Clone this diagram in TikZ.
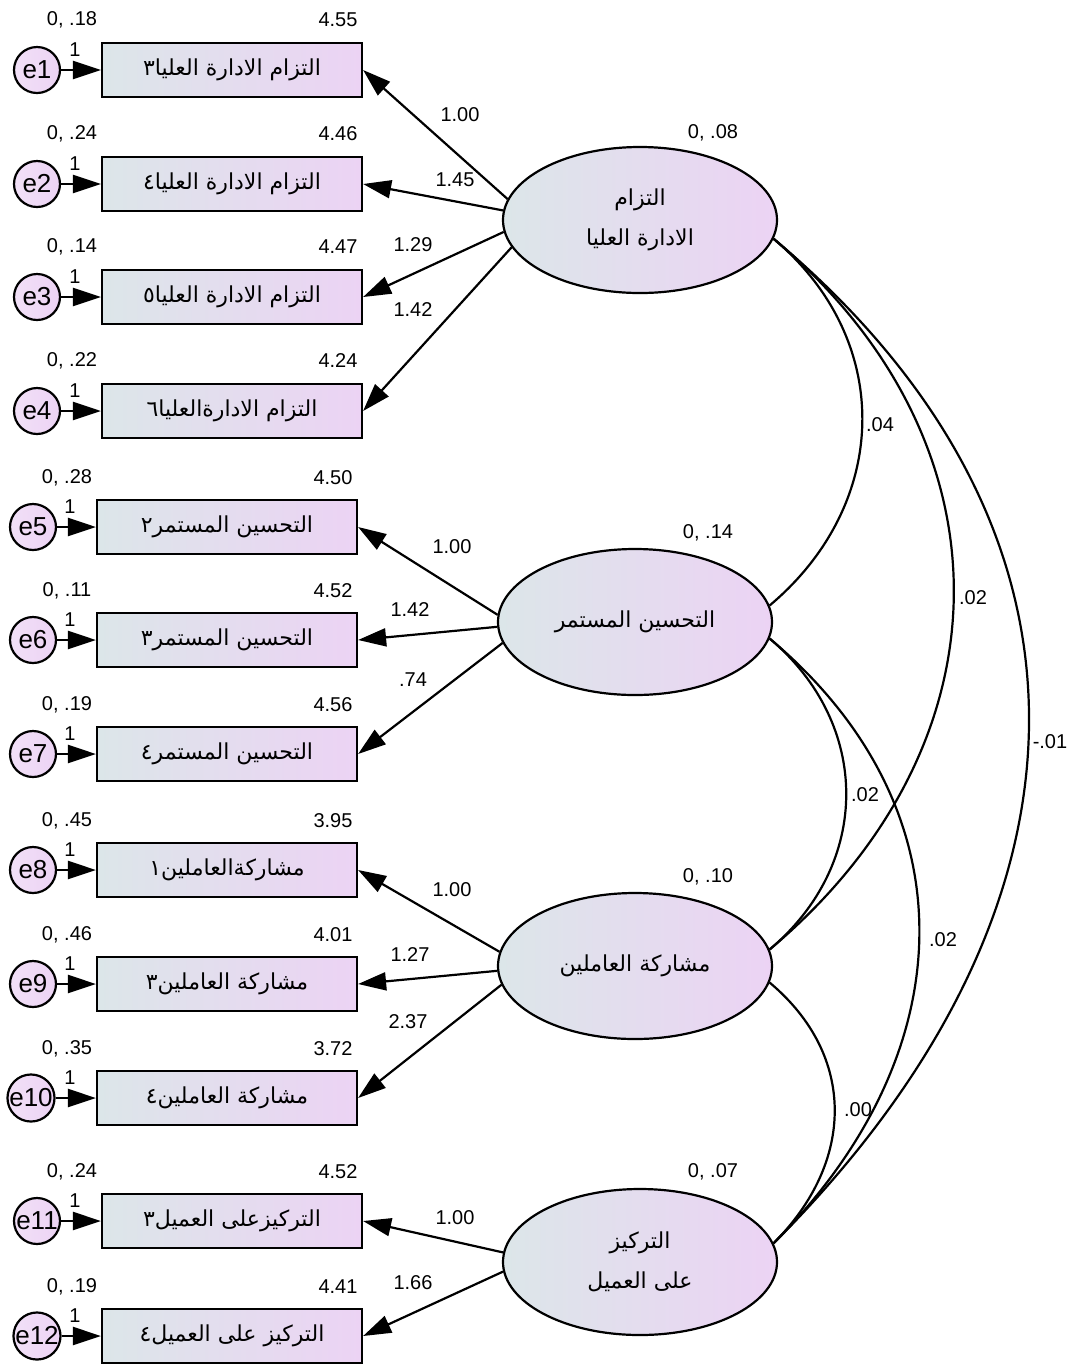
\documentclass[tikz,border=0pt]{standalone}
\usepackage{fontspec}
\setmainfont{Liberation Sans}
\newfontfamily\arabicfont[Script=Arabic]{DejaVu Sans}
\TeXXeTstate=1
\usetikzlibrary{arrows.meta,shapes.geometric}
\definecolor{shadeL}{HTML}{DCE6E9}
\definecolor{shadeR}{HTML}{ECD3F4}
\newcommand{\artxt}[1]{{\arabicfont\beginR #1\endR}}

\begin{document}
\begin{tikzpicture}[x=0.5pt,y=0.5pt,
  obs/.style={draw, line width=1.1pt, minimum width=130pt, minimum height=27pt,
    inner sep=0pt, left color=shadeL, right color=shadeR,
    font=\fontsize{11}{13}\selectfont},
  lat/.style={ellipse, draw, line width=1.1pt, minimum width=137pt,
    minimum height=73pt, inner sep=0pt, left color=shadeL, right color=shadeR,
    align=center, font=\fontsize{11}{20}\selectfont},
  err/.style={circle, draw, line width=1.1pt, minimum size=23pt, inner sep=0pt,
    left color=shadeR!70!white, right color=shadeR,
    font=\fontsize{13}{15}\selectfont},
  num/.style={inner sep=0pt, font=\fontsize{10}{12}\selectfont},
  load/.style={line width=1.1pt, -{Triangle[length=14pt,width=9pt]}},
  cov/.style={line width=1.1pt}]
\useasboundingbox (0,0) rectangle (1067,-1367);

% latent variables
\node[lat] (F1) at (640,-220) {\artxt{التزام}\\\artxt{الادارة العليا}};
\node[lat] (F2) at (635,-622) {\artxt{التحسين المستمر}};
\node[lat] (F3) at (635,-966) {\artxt{مشاركة العاملين}};
\node[lat] (F4) at (640,-1262) {\artxt{التركيز}\\\artxt{على العميل}};
\node[num] (vF1) at (713,-133) {0, .08};
\node[num] (vF2) at (708,-533) {0, .14};
\node[num] (vF3) at (708,-877) {0, .10};
\node[num] (vF4) at (713,-1172) {0, .07};

% indicators of F1
\node[obs] (b1) at (232,-70) {\artxt{التزام الادارة العليا٣}};
\node[obs] (b2) at (232,-184) {\artxt{التزام الادارة العليا٤}};
\node[obs] (b3) at (232,-297) {\artxt{التزام الادارة العليا٥}};
\node[obs] (b4) at (232,-411) {\artxt{التزام الادارةالعليا٦}};
\node[err] (e1) at (37,-70) {e1};
\node[err] (e2) at (37,-184) {e2};
\node[err] (e3) at (37,-297) {e3};
\node[err] (e4) at (37,-411) {e4};
\node[num] (v1) at (72,-20) {0, .18};
\node[num] (v2) at (72,-134) {0, .24};
\node[num] (v3) at (72,-247) {0, .14};
\node[num] (v4) at (72,-361) {0, .22};
\node[num] (m1) at (338,-20) {4.55};
\node[num] (m2) at (338,-134) {4.46};
\node[num] (m3) at (338,-247) {4.47};
\node[num] (m4) at (338,-361) {4.24};

% indicators of F2
\node[obs] (b5) at (227,-527) {\artxt{التحسين المستمر٢}};
\node[obs] (b6) at (227,-640) {\artxt{التحسين المستمر٣}};
\node[obs] (b7) at (227,-754) {\artxt{التحسين المستمر٤}};
\node[err] (e5) at (33,-527) {e5};
\node[err] (e6) at (33,-640) {e6};
\node[err] (e7) at (33,-754) {e7};
\node[num] (v5) at (67,-478) {0, .28};
\node[num] (v6) at (67,-591) {0, .11};
\node[num] (v7) at (67,-705) {0, .19};
\node[num] (m5) at (333,-478) {4.50};
\node[num] (m6) at (333,-591) {4.52};
\node[num] (m7) at (333,-705) {4.56};

% indicators of F3
\node[obs] (b8) at (227,-870) {\artxt{مشاركةالعاملين١}};
\node[obs] (b9) at (227,-984) {\artxt{مشاركة العاملين٣}};
\node[obs] (b10) at (227,-1098) {\artxt{مشاركة العاملين٤}};
\node[err] (e8) at (33,-870) {e8};
\node[err] (e9) at (33,-984) {e9};
\node[err] (e10) at (31,-1098) {e10};
\node[num] (v8) at (67,-821) {0, .45};
\node[num] (v9) at (67,-935) {0, .46};
\node[num] (v10) at (67,-1049) {0, .35};
\node[num] (m8) at (333,-821) {3.95};
\node[num] (m9) at (333,-935) {4.01};
\node[num] (m10) at (333,-1049) {3.72};

% indicators of F4
\node[obs] (b11) at (232,-1221) {\artxt{التركيزعلى العميل٣}};
\node[obs] (b12) at (232,-1336) {\artxt{التركيز على العميل٤}};
\node[err] (e11) at (37,-1221) {e11};
\node[err] (e12) at (37,-1336) {e12};
\node[num] (v11) at (72,-1172) {0, .24};
\node[num] (v12) at (72,-1287) {0, .19};
\node[num] (m11) at (338,-1172) {4.52};
\node[num] (m12) at (338,-1287) {4.41};

% error paths
\draw[load] (e1) -- (b1);
\draw[load] (e2) -- (b2);
\draw[load] (e3) -- (b3);
\draw[load] (e4) -- (b4);
\draw[load] (e5) -- (b5);
\draw[load] (e6) -- (b6);
\draw[load] (e7) -- (b7);
\draw[load] (e8) -- (b8);
\draw[load] (e9) -- (b9);
\draw[load] (e10) -- (b10);
\draw[load] (e11) -- (b11);
\draw[load] (e12) -- (b12);
\node[num] (w1) at (75,-50) {1};
\node[num] (w2) at (75,-164) {1};
\node[num] (w3) at (75,-277) {1};
\node[num] (w4) at (75,-391) {1};
\node[num] (w5) at (70,-507) {1};
\node[num] (w6) at (70,-620) {1};
\node[num] (w7) at (70,-734) {1};
\node[num] (w8) at (70,-850) {1};
\node[num] (w9) at (70,-964) {1};
\node[num] (w10) at (70,-1078) {1};
\node[num] (w11) at (75,-1201) {1};
\node[num] (w12) at (75,-1316) {1};

% loadings
\draw[load] (F1.171) -- (b1.east);
\draw[load] (F1.176) -- (b2.east);
\draw[load] (F1.185) -- (b3.east);
\draw[load] (F1.192) -- (b4.east);
\draw[load] (F2.177) -- (b5.east);
\draw[load] (F2.182) -- (b6.east);
\draw[load] (F2.189) -- (b7.east);
\draw[load] (F3.174) -- (b8.east);
\draw[load] (F3.182) -- (b9.east);
\draw[load] (F3.188) -- (b10.east);
\draw[load] (F4.176) -- (b11.east);
\draw[load] (F4.184) -- (b12.east);
\node[num] (l1) at (460,-115) {1.00};
\node[num] (l2) at (455,-180) {1.45};
\node[num] (l3) at (413,-245) {1.29};
\node[num] (l4) at (413,-310) {1.42};
\node[num] (l5) at (452,-547) {1.00};
\node[num] (l6) at (410,-610) {1.42};
\node[num] (l7) at (413,-680) {.74};
\node[num] (l8) at (452,-890) {1.00};
\node[num] (l9) at (410,-955) {1.27};
\node[num] (l10) at (408,-1022) {2.37};
\node[num] (l11) at (455,-1218) {1.00};
\node[num] (l12) at (413,-1283) {1.66};

% covariances
\draw[cov] (F1.-8) to[out=-40,in=40,looseness=1.1] (F2.7);
\draw[cov] (F1.-8) to[out=-40,in=40,looseness=1.14] (F3.7);
\draw[cov] (F1.-8) to[out=-40,in=45,looseness=1.18] (F4.8);
\draw[cov] (F2.-7) to[out=-40,in=40,looseness=1.1] (F3.7);
\draw[cov] (F2.-7) to[out=-40,in=45,looseness=1.13] (F4.8);
\draw[cov] (F3.-7) to[out=-40,in=45,looseness=1.12] (F4.8);
\node[num] (c12) at (880,-425) {.04};
\node[num] (c13) at (973,-598) {.02};
\node[num] (c14) at (1050,-742) {-.01};
\node[num] (c23) at (865,-795) {.02};
\node[num] (c24) at (943,-940) {.02};
\node[num] (c34) at (858,-1110) {.00};
\end{tikzpicture}
\end{document}
